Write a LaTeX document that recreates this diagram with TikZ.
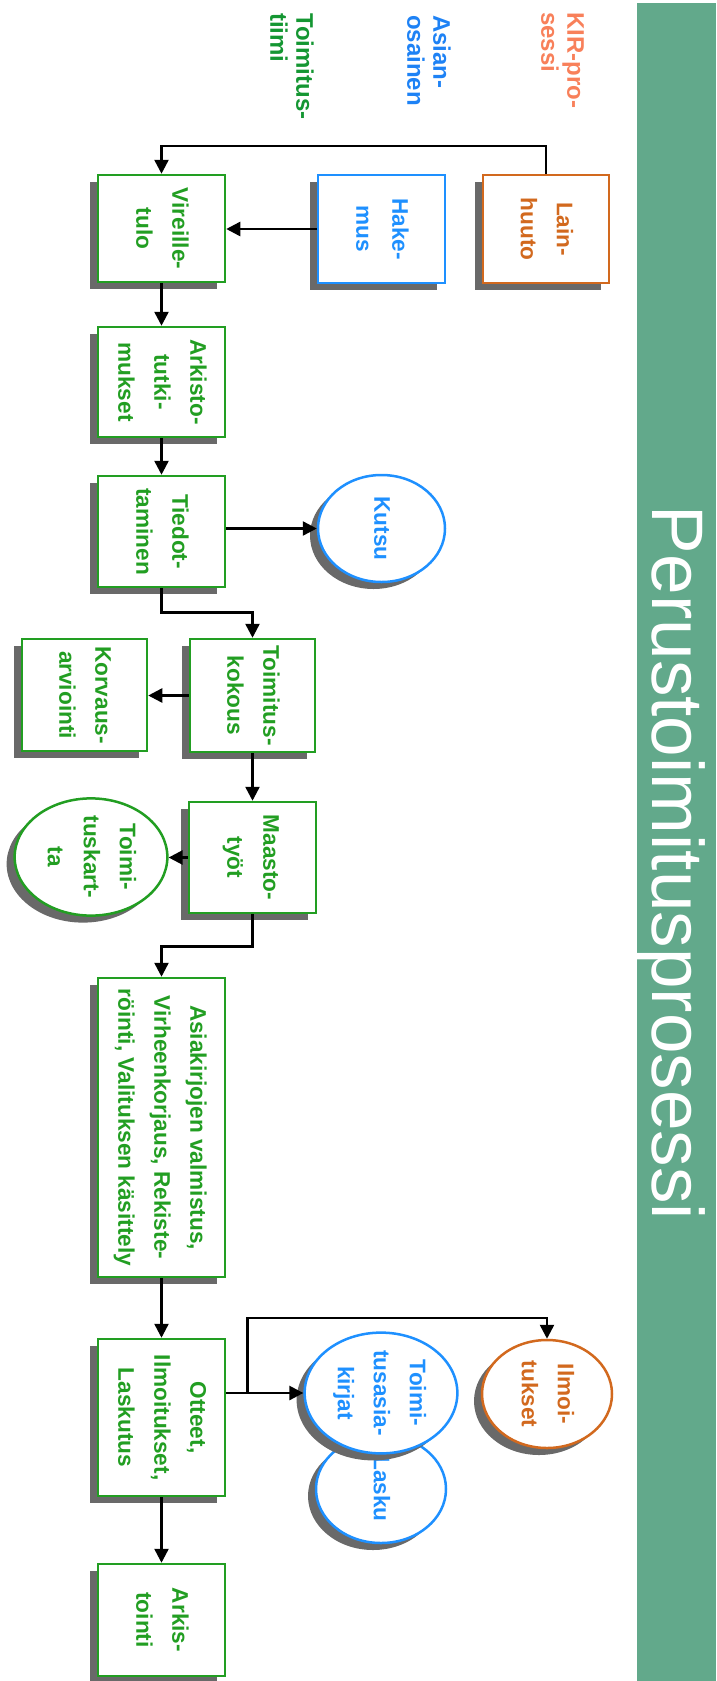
\documentclass[tikz,border=0pt]{standalone}
\usepackage{fontspec}
\setmainfont{Liberation Sans}
\usetikzlibrary{arrows.meta,shadows,calc,shapes.geometric}
\definecolor{gr}{RGB}{34,158,34}
\definecolor{bl}{RGB}{30,144,255}
\definecolor{orb}{RGB}{210,105,30}
\definecolor{sal}{RGB}{248,128,90}
\definecolor{lgr}{RGB}{20,150,50}
\definecolor{lbl}{RGB}{30,130,245}
\definecolor{band}{RGB}{98,169,139}
\definecolor{shd}{RGB}{105,105,105}
\newcommand\rt[1]{\rotatebox{-90}{\begin{tabular}{@{}c@{}}#1\end{tabular}}}
\begin{document}
\begin{tikzpicture}[x=1pt,y=-1pt,
  base/.style={fill=white, line width=2.5pt, inner sep=0pt,
    font=\fontsize{22.6}{36}\selectfont\bfseries,
    drop shadow={shadow xshift=-8pt, shadow yshift=-7pt, fill=shd, opacity=1}},
  gbox/.style={base, rectangle, draw=gr, text=gr},
  bbox/.style={base, rectangle, draw=bl, text=bl},
  obox/.style={base, rectangle, draw=orb, text=orb},
  gell/.style={base, ellipse, draw=gr, text=gr},
  bell/.style={base, ellipse, draw=bl, text=bl},
  oell/.style={base, ellipse, draw=orb, text=orb},
  lane/.style={rotate=-90, anchor=north west, align=left, inner sep=0pt,
    font=\fontsize{24}{26}\selectfont\bfseries},
  arr/.style={line width=2.5pt, -{Triangle[length=14pt,width=14pt]}},
]
\useasboundingbox (0,0) rectangle (716,1681);
\fill[band] (637,3) rectangle (716,1681);
\node[rotate=-90, anchor=base, text=white, inner sep=0pt,
  font=\fontsize{73}{80}\selectfont] (title) at (652,863) {Perustoimitusprosessi};

% lane labels
\node[lane, text=sal] (lkir) at (584,12) {KIR-pro-\\sessi};
\node[lane, text=lbl] (lasi) at (451,15) {Asian-\\osainen};
\node[lane, text=lgr] (ltoi) at (314,13) {Toimitus-\\tiimi};

% boxes
\node[obox, minimum width=126, minimum height=108] (lain) at (546,229) {\rt{Lain-\\huuto}};
\node[bbox, minimum width=127, minimum height=108] (hake) at (381.5,229) {\rt{Hake-\\mus}};
\node[gbox, minimum width=127, minimum height=107] (vir) at (161.5,228.5) {\rt{Vireille-\\tulo}};
\node[gbox, minimum width=127, minimum height=110] (ark) at (161.5,382) {\rt{Arkisto-\\tutki-\\mukset}};
\node[gbox, minimum width=127, minimum height=111] (tied) at (161.5,531.5) {\rt{Tiedot-\\taminen}};
\node[bell, minimum width=127, minimum height=107] (kutsu) at (381.5,528.5) {\rt{Kutsu}};
\node[gbox, minimum width=125, minimum height=113] (tk) at (252.5,695.5) {\rt{Toimitus-\\kokous}};
\node[gbox, minimum width=125, minimum height=112] (korv) at (84.5,695) {\rt{Korvaus-\\arviointi}};
\node[gbox, minimum width=127, minimum height=111] (maasto) at (252.5,857.5) {\rt{Maasto-\\työt}};
\node[gell, minimum width=130, minimum height=104] (tkartta) at (91,857) {\rt{Toimi-\\tuskart-\\ta}};
\node[gbox, minimum width=127, minimum height=299] (asia) at (161.5,1127.5) {\rt{Asiakirjojen valmistus,\\Virheenkorjaus, Rekiste-\\röinti, Valituksen käsittely}};
\node[gbox, minimum width=127, minimum height=157] (otteet) at (161.5,1417.5) {\rt{Otteet,\\Ilmoitukset,\\Laskutus}};
\node[gbox, minimum width=127, minimum height=112] (arkis) at (161.5,1620) {\rt{Arkis-\\tointi}};
\node[bell, minimum width=130, minimum height=108] (lasku) at (381,1489) {\rt{Lasku}};
\node[bell, minimum width=130, minimum height=110] (toimasia) at (381,1393) {\rt{Toimi-\\tusasia-\\kirjat}};
\node[oell, minimum width=130, minimum height=108] (ilmo) at (547,1394) {\rt{Ilmoi-\\tukset}};

% connectors
\draw[arr] (lain.north) -- ++(0,-28) -| (vir.north);
\draw[arr] (hake.west) -- (hake.west -| vir.east);
\draw[arr] (vir) -- (ark);
\draw[arr] (ark) -- (tied);
\draw[arr] (tied.east |- kutsu.west) -- (kutsu.west);
\draw[arr] (tied.south) -- ++(0,24) -| (tk.north);
\draw[arr] (tk.west) -- (tk.west -| korv.east);
\draw[arr] (tk) -- (maasto);
\draw[arr] (maasto.west) -- (maasto.west -| tkartta.east);
\draw[arr] (maasto.south) -- ++(0,32) -| (asia.north);
\draw[arr] (asia) -- (otteet);
\draw[arr] (otteet) -- (arkis);
\draw[arr] (otteet.east |- toimasia.west) -- (toimasia.west);
\coordinate (br) at ($(otteet.east |- toimasia.west)+(21,0)$);
\coordinate (ilmotop) at ($(ilmo.north)+(0,-21)$);
\draw[arr] (br) |- (ilmotop) -- (ilmo.north);
\end{tikzpicture}
\end{document}
